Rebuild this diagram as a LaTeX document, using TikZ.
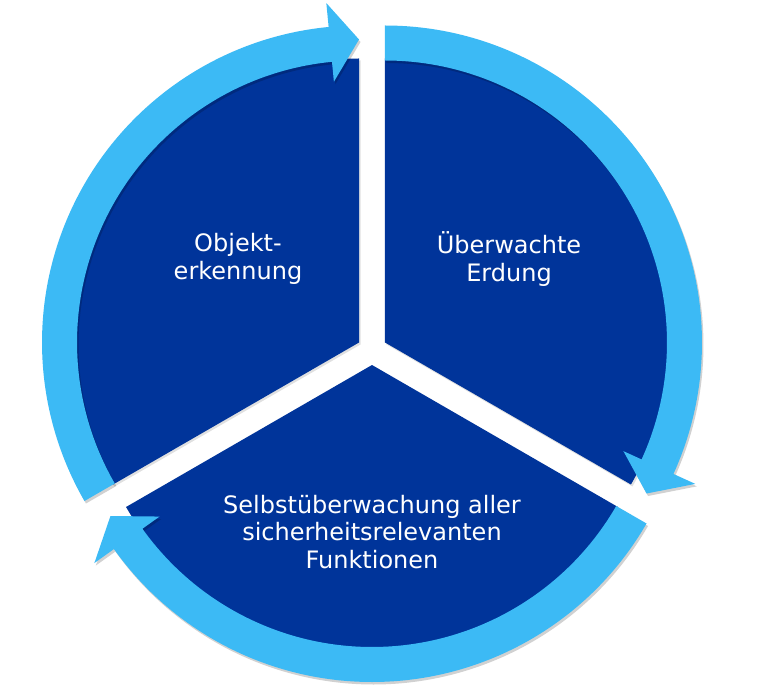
\documentclass[tikz,border=0pt]{standalone}
\usepackage{fontspec}
\setsansfont{DejaVu Sans}
\definecolor{ringblue}{RGB}{60,186,245}
\definecolor{darkblue}{RGB}{0,52,154}
\begin{document}
\begin{tikzpicture}[x=1pt,y=1pt,
  sector/.style={fill=darkblue,preaction={fill=black,opacity=0.12,transform canvas={shift={(1.5pt,-2pt)}}}},
  ring/.style={fill=ringblue,preaction={fill=black,opacity=0.18,transform canvas={shift={(1.5pt,-2.5pt)}}}},
  lbl/.style={text=white,font=\sffamily\fontsize{24}{27.5}\selectfont,align=center}]
\useasboundingbox (0,0) rectangle (760,697);
\fill[white] (0,0) rectangle (760,697);
\coordinate (A) at (359.01,354.5);
\coordinate (B) at (384.99,354.5);
\coordinate (D) at (372,332);
% sectors
\begin{scope}[shift={(A)}]
  \fill[sector] (0,0) -- (90:284) arc[start angle=90,end angle=210,radius=284] -- cycle;
\end{scope}
\begin{scope}[shift={(B)}]
  \fill[sector] (0,0) -- (-30:284) arc[start angle=-30,end angle=90,radius=284] -- cycle;
\end{scope}
\begin{scope}[shift={(D)}]
  \fill[sector] (0,0) -- (210:284) arc[start angle=210,end angle=330,radius=284] -- cycle;
\end{scope}
% ring arrows (clockwise)
\begin{scope}[shift={(A)}]
  \fill[ring] (210:317) arc[start angle=210,end angle=95.5,radius=317] -- (95.5:341) -- (90:303) -- (95.5:262) -- (95.5:282) arc[start angle=95.5,end angle=210,radius=282] -- cycle;
\end{scope}
\begin{scope}[shift={(B)}]
  \fill[ring] (90:317) arc[start angle=90,end angle=-24.5,radius=317] -- (-24.5:341) -- (-30:302) -- (-24.5:262) -- (-24.5:282) arc[start angle=-24.5,end angle=90,radius=282] -- cycle;
\end{scope}
\begin{scope}[shift={(D)}]
  \fill[ring] (330:317) arc[start angle=330,end angle=215.5,radius=317] -- (215.5:341) -- (210:302) -- (215.5:261) -- (215.5:282) arc[start angle=215.5,end angle=330,radius=282] -- cycle;
\end{scope}
% labels
\node[lbl] (objekt) at (238,438) {Objekt-\\erkennung};
\node[lbl] (erdung) at (509,438) {Überwachte\\Erdung};
\node[lbl] (selbst) at (372,165) {Selbstüberwachung aller\\sicherheitsrelevanten\\Funktionen};
\end{tikzpicture}
\end{document}
